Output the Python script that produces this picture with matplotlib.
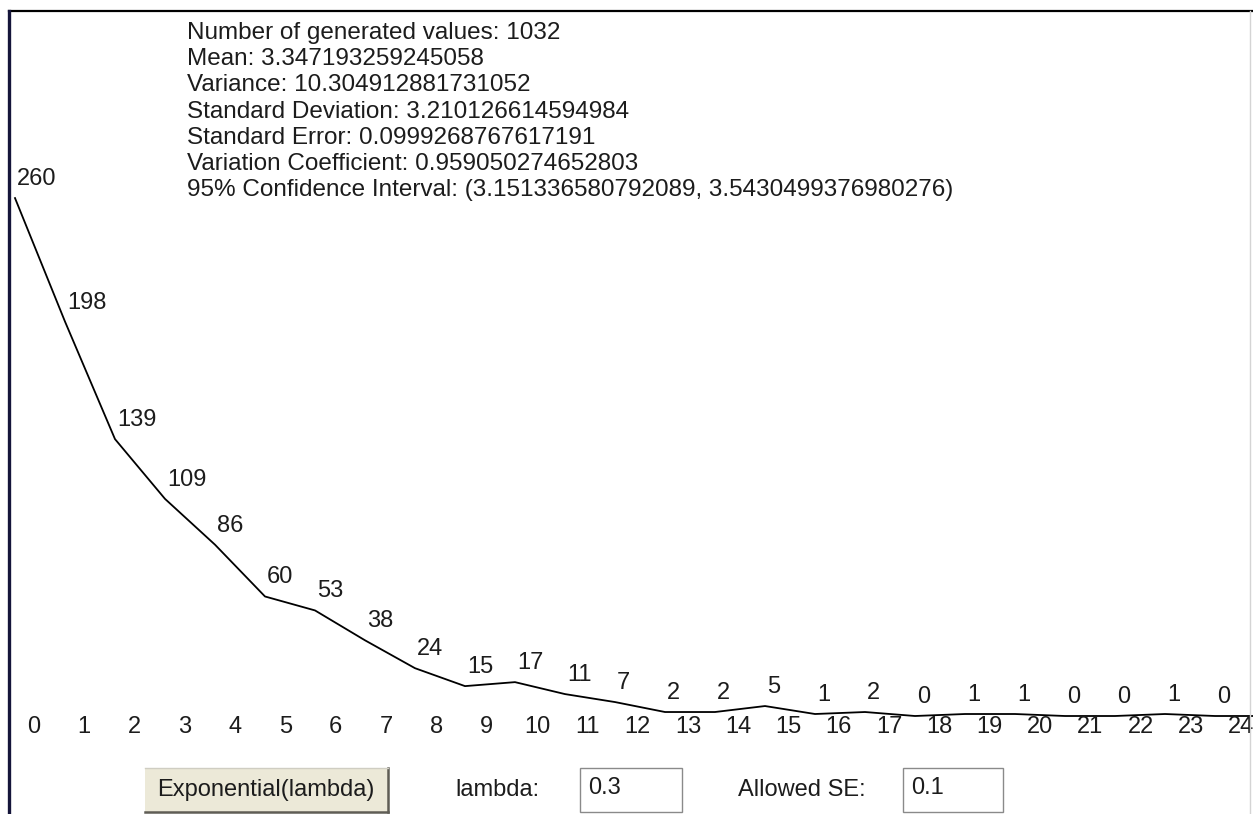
import matplotlib
matplotlib.use("Agg")
import matplotlib.pyplot as plt
from matplotlib.patches import Rectangle

# frequencies per bin (last bin just continues the line past the edge)
bins = list(range(26))
counts = [260, 198, 139, 109, 86, 60, 53, 38, 24, 15, 17, 11, 7, 2, 2, 5, 1, 2, 0, 1, 1, 0, 0, 1, 0, 0]
tick_labels = [str(i) for i in range(25)]

stats = [
    "Number of generated values: 1032",
    "Mean: 3.347193259245058",
    "Variance: 10.304912881731052",
    "Standard Deviation: 3.210126614594984",
    "Standard Error: 0.0999268767617191",
    "Variation Coefficient: 0.959050274652803",
    "95% Confidence Interval: (3.151336580792089, 3.5430499376980276)",
]

W, H = 1253, 814
plt.rcParams['font.family'] = ['Liberation Sans', 'DejaVu Sans']
FS = 17
TXT = "#1c1c1c"

fig = plt.figure(figsize=(W / 100, H / 100), dpi=100)
fig.patch.set_facecolor("white")


def fx(x):
    return x / W


def fy(y):
    return 1 - y / H


# plot area: 50 px per bin, ~2 px per count, zero line at y=716
ax = fig.add_axes([0, 0, 1, 1])
ax.set_xlim(-15 / 50, (W - 15) / 50)
ax.set_ylim((716 - H) / 1.992, 716 / 1.992)
ax.axis("off")

ax.plot(bins, counts, color="black", lw=1.3, solid_joinstyle="round")

for i, lab in enumerate(tick_labels):
    ax.annotate(str(counts[i]), (bins[i], counts[i]), xytext=(2, 13),
                textcoords="offset pixels", ha="left", va="baseline",
                fontsize=FS, color=TXT)
    ax.text(i * 1.006 + 0.38, -5.5, lab, ha="center", va="center", fontsize=FS, color=TXT)

# statistics block
for k, line in enumerate(stats):
    fig.text(fx(187), fy(33 + 26.2 * k), line, ha="left", va="center",
             fontsize=17.5, color=TXT)

# window border
fig.add_artist(plt.Line2D([fx(9), 1], [fy(11), fy(11)], color="black", lw=1.6))
fig.add_artist(plt.Line2D([fx(9), fx(9)], [fy(11), 0], color="#15153a", lw=2.4))
fig.add_artist(plt.Line2D([fx(1250), fx(1250)], [fy(11), 0], color="#d4d4d4", lw=1))

# controls along the bottom
fig.add_artist(Rectangle((fx(145), fy(812)), fx(388) - fx(145), fy(768) - fy(812),
                         facecolor="#ece9d8", edgecolor="none"))
fig.add_artist(plt.Line2D([fx(145), fx(388)], [fy(812), fy(812)], color="#5f5d55", lw=1.8))
fig.add_artist(plt.Line2D([fx(388), fx(388)], [fy(812), fy(768)], color="#5f5d55", lw=1.8))
fig.add_artist(plt.Line2D([fx(145), fx(388)], [fy(768), fy(768)], color="#cfcdc2", lw=1))
fig.text(fx(266), fy(790), "Exponential(lambda)", ha="center", va="center",
         fontsize=FS, color=TXT)

fig.text(fx(455), fy(790), "lambda:", ha="left", va="center", fontsize=FS, color=TXT)
fig.add_artist(Rectangle((fx(580), fy(812)), fx(682) - fx(580), fy(768) - fy(812),
                         facecolor="white", edgecolor="#8a8a8a", lw=1))
fig.text(fx(588), fy(788), "0.3", ha="left", va="center", fontsize=FS, color=TXT)

fig.text(fx(738), fy(790), "Allowed SE:", ha="left", va="center", fontsize=FS, color=TXT)
fig.add_artist(Rectangle((fx(903), fy(812)), fx(1003) - fx(903), fy(768) - fy(812),
                         facecolor="white", edgecolor="#8a8a8a", lw=1))
fig.text(fx(911), fy(788), "0.1", ha="left", va="center", fontsize=FS, color=TXT)

fig.savefig("out.png", dpi=100)
